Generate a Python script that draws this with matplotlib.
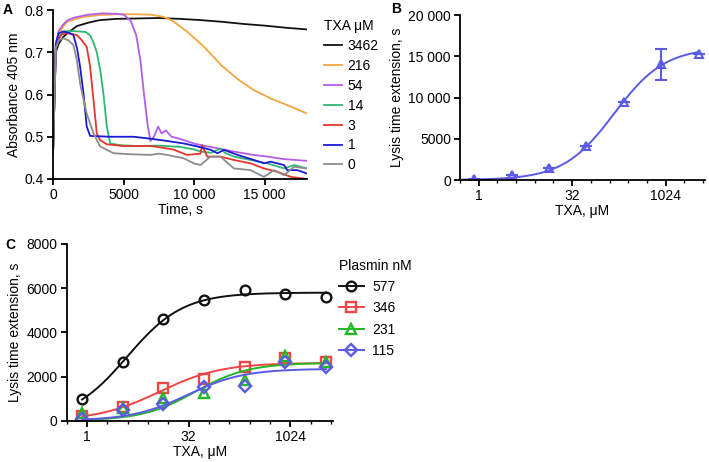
import numpy as np
import matplotlib
matplotlib.use('Agg')
import matplotlib.pyplot as plt
from matplotlib.ticker import FixedLocator, FuncFormatter, NullFormatter

plt.rcParams['font.family'] = ['Liberation Sans', 'DejaVu Sans']
FS = 10
plt.rcParams['font.size'] = FS

# ---- panel A: absorbance traces ----
txa_labels = ['3462', '216', '54', '14', '3', '1', '0']
txa_colors = ['#111111', '#f5a540', '#b45cf0', '#2eb872', '#e8352e', '#1a1ad8', '#8c8c8c']

t_3462 = [0, 200, 400, 700, 1000, 1700, 2500, 3300, 4500, 6000, 7500, 9000, 10500,
          12000, 13500, 15000, 16500, 18000]
a_3462 = [0.46, 0.70, 0.72, 0.735, 0.745, 0.762, 0.770, 0.776, 0.779, 0.780, 0.781,
          0.779, 0.776, 0.772, 0.767, 0.763, 0.758, 0.754]

t_216 = [0, 200, 400, 700, 1000, 1500, 2200, 3300, 4500, 5700, 6900, 7800, 8400, 9500,
         10700, 11900, 13100, 14200, 15400, 16600, 18000]
a_216 = [0.46, 0.71, 0.74, 0.76, 0.772, 0.778, 0.784, 0.788, 0.790, 0.790, 0.789, 0.784,
         0.776, 0.749, 0.713, 0.670, 0.636, 0.611, 0.591, 0.575, 0.555]

t_54 = [0, 200, 400, 700, 1000, 1500, 2500, 3500, 4500, 5000, 5500, 5900, 6200, 6450,
        6700, 6900, 7150, 7450, 7700, 8000, 8400, 9000, 9980, 10800, 11630, 12820,
        14000, 15190, 16370, 18000]
a_54 = [0.46, 0.72, 0.75, 0.765, 0.775, 0.782, 0.789, 0.792, 0.791, 0.789, 0.775, 0.74,
        0.68, 0.60, 0.53, 0.49, 0.50, 0.524, 0.508, 0.515, 0.500, 0.495, 0.484, 0.478,
        0.473, 0.465, 0.458, 0.453, 0.447, 0.443]

t_14 = [0, 200, 400, 800, 1500, 2300, 2630, 2900, 3100, 3340, 3580, 3815, 4050, 4760,
        6000, 7500, 9000, 10000, 10450, 11200, 11870, 12200, 12820, 14000, 15190, 16370,
        17085, 18000]
a_14 = [0.46, 0.71, 0.735, 0.75, 0.75, 0.748, 0.74, 0.72, 0.70, 0.66, 0.60, 0.524, 0.484,
        0.480, 0.478, 0.479, 0.476, 0.470, 0.465, 0.462, 0.472, 0.462, 0.453, 0.445,
        0.437, 0.425, 0.433, 0.425]

t_3 = [0, 200, 400, 600, 1000, 1680, 2000, 2390, 2630, 2870, 3100, 3340, 3815, 5000,
       7000, 8500, 9500, 10450, 10570, 10925, 11870, 12820, 14000, 14950, 15900, 16850,
       18000]
a_3 = [0.46, 0.71, 0.73, 0.742, 0.745, 0.741, 0.73, 0.713, 0.666, 0.587, 0.508, 0.492,
       0.482, 0.478, 0.478, 0.47, 0.457, 0.46, 0.48, 0.453, 0.453, 0.445, 0.437, 0.425,
       0.417, 0.405, 0.40]

t_1 = [0, 200, 400, 735, 1200, 1445, 1700, 1920, 2160, 2390, 2630, 4000, 5710, 7000,
       8080, 9290, 10240, 11180, 11650, 12120, 13070, 14250, 14950, 15420, 16370, 16600,
       17300, 18000]
a_1 = [0.46, 0.72, 0.745, 0.749, 0.745, 0.741, 0.71, 0.666, 0.603, 0.524, 0.502, 0.500,
       0.500, 0.495, 0.490, 0.484, 0.477, 0.469, 0.461, 0.469, 0.457, 0.445, 0.437,
       0.441, 0.433, 0.421, 0.421, 0.413]

t_0 = [0, 200, 400, 735, 1100, 1445, 1700, 1920, 2150, 2390, 2870, 3340, 4290, 5240,
       6900, 7500, 8080, 9265, 9980, 10450, 11160, 11870, 12820, 14000, 14950, 15660,
       16370, 17085, 18000]
a_0 = [0.46, 0.71, 0.728, 0.733, 0.728, 0.717, 0.68, 0.626, 0.59, 0.555, 0.508, 0.477,
       0.461, 0.459, 0.457, 0.46, 0.457, 0.449, 0.437, 0.433, 0.453, 0.453, 0.425, 0.421,
       0.405, 0.421, 0.409, 0.429, 0.425]

traces = [(t_3462, a_3462), (t_216, a_216), (t_54, a_54), (t_14, a_14),
          (t_3, a_3), (t_1, a_1), (t_0, a_0)]

# ---- panel B: lysis time extension vs TXA ----
txa_conc = [0.845, 3.38, 13.5, 54.1, 216, 865, 3462]
lysis_ext = [80, 550, 1420, 4080, 9430, 14050, 15300]
lysis_err = [0, 0, 0, 0, 0, 1850, 0]
hill_b = (16100, 151, 1.06)   # top, EC50, slope

# ---- panel C: lysis extension at different plasmin ----
plasmin_labels = ['577', '346', '231', '115']
plasmin_colors = ['#111111', '#f04545', '#22b822', '#5a5ae6']
plasmin_markers = ['o', 's', '^', 'D']
ext_577 = [980, 2670, 4620, 5480, 5900, 5750, 5600]
ext_346 = [230, 635, 1465, 1875, 2420, 2825, 2670]
ext_231 = [335, 590, 1015, 1240, 1845, 2945, 2645]
ext_115 = [80, 485, 755, 1540, 1570, 2645, 2420]
hill_c = [(5800, 3.94, 1.05), (2620, 11.8, 0.95), (2620, 40, 1.1), (2350, 31, 1.05)]


def hill(x, top, ec50, n):
    return top * x ** n / (ec50 ** n + x ** n)


def px(l, b, r, t, W=709., H=462.):
    return [l / W, 1 - b / H, (r - l) / W, (b - t) / H]


def space_fmt(v, pos):
    v = int(round(v))
    if v >= 10000:
        return '{:,}'.format(v).replace(',', ' ')
    return str(v)


def style_axes(ax):
    for s in ['top', 'right']:
        ax.spines[s].set_visible(False)
    for s in ['left', 'bottom']:
        ax.spines[s].set_linewidth(1.3)
    ax.tick_params(which='major', length=4.5, width=1.3, direction='out', labelsize=FS,
                   pad=2)
    ax.tick_params(which='minor', length=2.5, width=1.0, direction='out')


def log2_axis(ax):
    ax.set_xscale('log', base=2)
    ax.set_xlim(0.5, 4400)
    ax.xaxis.set_major_locator(FixedLocator([1, 32, 1024]))
    ax.xaxis.set_major_formatter(FuncFormatter(lambda v, p: '%d' % v))
    ax.xaxis.set_minor_locator(FixedLocator([2.0 ** k for k in range(-1, 13)]))
    ax.xaxis.set_minor_formatter(NullFormatter())


fig = plt.figure(figsize=(7.09, 4.62), dpi=100)

# A
axA = fig.add_axes(px(53, 179, 307, 10))
for (t, a), c, lab in zip(traces, txa_colors, txa_labels):
    axA.plot(t, a, color=c, lw=1.3, label=lab)
axA.set_xlim(0, 18000)
axA.set_ylim(0.4, 0.8)
axA.set_xticks([0, 5000, 10000, 15000])
axA.set_yticks([0.4, 0.5, 0.6, 0.7, 0.8])
axA.xaxis.set_major_formatter(FuncFormatter(space_fmt))
axA.yaxis.set_major_formatter(FuncFormatter(lambda v, p: '%.1f' % v))
style_axes(axA)
axA.set_xlabel('Time, s', labelpad=1)
axA.set_ylabel('Absorbance 405 nm', labelpad=3)
legA = axA.legend(title='TXA \u03bcM', frameon=False, loc='upper left',
                  bbox_to_anchor=(1.04, 0.985), handlelength=1.3, handletextpad=0.4,
                  labelspacing=0.42, fontsize=FS, title_fontsize=FS, borderpad=0)
legA._legend_box.align = 'left'
fig.text(3 / 709, 1 - 14 / 462, 'A', fontsize=FS, fontweight='bold')

# B
axB = fig.add_axes(px(460, 180, 705, 15.3))
xs_b = np.logspace(np.log10(0.55), np.log10(3462), 200)
axB.plot(xs_b, hill(xs_b, *hill_b), color='#5a5ae6', lw=1.4)
axB.errorbar(txa_conc, lysis_ext, yerr=lysis_err, fmt='^', ms=6, mfc='none',
             mec='#5a5ae6', mew=1.5, ecolor='#5a5ae6', elinewidth=1.5, capsize=4,
             capthick=1.5)
log2_axis(axB)
axB.set_ylim(0, 20000)
axB.set_yticks([0, 5000, 10000, 15000, 20000])
axB.yaxis.set_major_formatter(FuncFormatter(space_fmt))
style_axes(axB)
axB.set_xlabel('TXA, \u03bcM', labelpad=1)
axB.set_ylabel('Lysis time extension, s', labelpad=3)
fig.text(391 / 709, 1 - 13 / 462, 'B', fontsize=FS, fontweight='bold')

# C
axC = fig.add_axes(px(66.7, 420.7, 333, 244))
xs_c = np.logspace(np.log10(0.845), np.log10(3462), 200)
c_series = [ext_577, ext_346, ext_231, ext_115]
for ys, c, m, lab, p in zip(c_series, plasmin_colors, plasmin_markers, plasmin_labels,
                            hill_c):
    axC.plot(xs_c, hill(xs_c, *p), color=c, lw=1.4)
    ms = 7 if m != 'D' else 6
    axC.plot(txa_conc, ys, m, ms=ms, mfc='none', mec=c, mew=1.7)
    axC.plot([], [], color=c, marker=m, ms=ms, mfc='none', mec=c, mew=1.7, lw=1.4,
             label=lab)
log2_axis(axC)
axC.set_ylim(0, 8000)
axC.set_yticks([0, 2000, 4000, 6000, 8000])
style_axes(axC)
axC.set_xlabel('TXA, \u03bcM', labelpad=1)
axC.set_ylabel('Lysis time extension, s', labelpad=3)
legC = axC.legend(title='Plasmin nM', frameon=False, loc='upper left',
                  bbox_to_anchor=(0.995, 0.955), handlelength=1.8, handletextpad=0.6,
                  labelspacing=0.52, fontsize=FS, title_fontsize=FS, borderpad=0)
legC._legend_box.align = 'left'
fig.text(5 / 709, 1 - 249 / 462, 'C', fontsize=FS, fontweight='bold')

fig.savefig('out.png', dpi=100)
plt.close()
